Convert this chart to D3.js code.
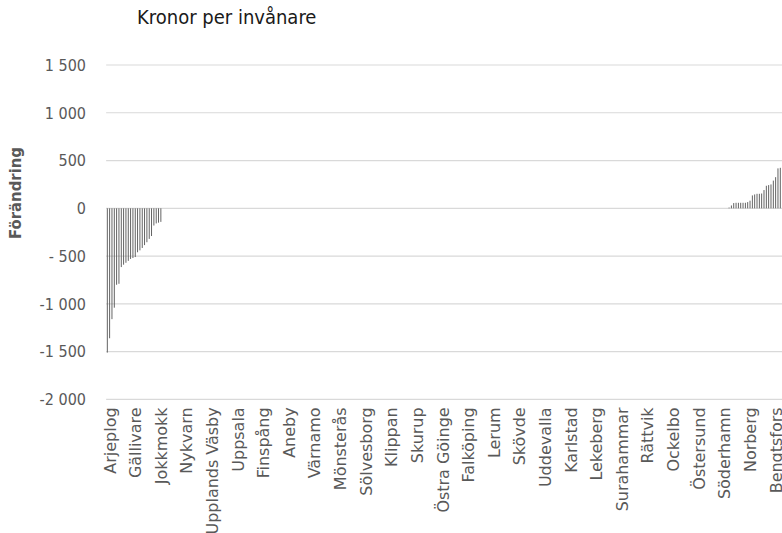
<!DOCTYPE html>
<html>
<head>
<meta charset="utf-8">
<script src="https://cdn.jsdelivr.net/npm/d3@7"></script>
<style>
  html, body { margin: 0; padding: 0; background: #fff; }
  svg { display: block; }
  text { font-family: 'Liberation Sans Narrow', 'DejaVu Sans Condensed', 'Roboto Condensed', sans-serif; }
</style>
</head>
<body>
<svg id="chart" width="782" height="533"></svg>
<script>
// ---- data ----
const title = "Kronor per invånare";
const yTitle = "Förändring";

// labelled municipalities (every 11th category along the sorted axis)
const labeledCategories = [
  "Arjeplog", "Gällivare", "Jokkmokk", "Nykvarn", "Upplands Väsby", "Uppsala",
  "Finspång", "Aneby", "Värnamo", "Mönsterås", "Sölvesborg", "Klippan", "Skurup",
  "Östra Göinge", "Falköping", "Lerum", "Skövde", "Uddevalla", "Karlstad",
  "Lekeberg", "Surahammar", "Rättvik", "Ockelbo", "Östersund", "Söderhamn",
  "Norberg", "Bengtsfors"
];
const labelEvery = 11;

// sorted values, kronor per inhabitant
const valuesLow = [
  -1510, -1360, -1160, -1040, -800, -790, -615, -590, -570, -550, -530, -520,
  -510, -460, -440, -415, -385, -355, -320, -290, -180, -158, -150, -142
];
const valuesFlat = [
  0,0,0,0,0,0,0,0,0,0,0,0,0,0,0,0,0,0,0,0,0,0,0,0,0,0,0,
  0,0,0,0,0,0,0,0,0,0,0,0,0,0,0,0,0,0,0,0,0,0,0,0,0,0,0,
  0,0,0,0,0,0,0,0,0,0,0,0,0,0,0,0,0,0,0,0,0,0,0,0,0,0,0,
  0,0,0,0,0,0,0,0,0,0,0,0,0,0,0,0,0,0,0,0,0,0,0,0,0,0,0,
  0,0,0,0,0,0,0,0,0,0,0,0,0,0,0,0,0,0,0,0,0,0,0,0,0,0,0,
  0,0,0,0,0,0,0,0,0,0,0,0,0,0,0,0,0,0,0,0,0,0,0,0,0,0,0,
  0,0,0,0,0,0,0,0,0,0,0,0,0,0,0,0,0,0,0,0,0,0,0,0,0,0,0,
  0,0,0,0,0,0,0,0,0,0,0,0,0,0,0,0,0,0,0,0,0,0,0,0,0,0,0,
  0,0,0,0,0,0,0,0,0,0,0,0,0,0,0,0,0,0,0,0,0,0,0,0,0,0,0
];
const valuesHigh = [
  8, 30, 55, 58, 58, 58, 58, 58, 65, 80, 135, 145, 152, 152, 155, 191,
  236, 243, 250, 290, 326, 418, 424
];

const yTickValues = [1500, 1000, 500, 0, -500, -1000, -1500, -2000];
const yTickLabels = ["1 500", "1 000", "500", "0", "- 500", "-1 000", "-1 500", "-2 000"];

// ---- build ----
const values = valuesLow.concat(valuesFlat, valuesHigh);
const data = values.map((v, i) => ({
  i: i,
  value: v,
  label: (i % labelEvery === 0) ? labeledCategories[i / labelEvery] : null
}));

const svg = d3.select("#chart");
const plot = { left: 106.14, right: 781.46, top: 65, bottom: 399.4 };

const x = d3.scaleBand()
  .domain(data.map(d => d.i))
  .range([plot.left, plot.right])
  .paddingInner(0.6)
  .paddingOuter(0.3);

const y = d3.scaleLinear()
  .domain([-2000, 1500])
  .range([plot.bottom, plot.top]);

// gridlines
svg.append("g")
  .selectAll("line")
  .data(yTickValues)
  .join("line")
  .attr("x1", plot.left)
  .attr("x2", 782)
  .attr("y1", d => y(d))
  .attr("y2", d => y(d))
  .attr("stroke", "#d9d9d9")
  .attr("stroke-width", 1.2);

// y tick labels
svg.append("g")
  .selectAll("text")
  .data(yTickValues)
  .join("text")
  .attr("x", 86)
  .attr("y", d => y(d))
  .attr("dy", "0.36em")
  .attr("text-anchor", "end")
  .attr("fill", "#595959")
  .attr("font-size", 16)
  .text((d, k) => yTickLabels[k]);

// bars
svg.append("g")
  .selectAll("rect")
  .data(data.filter(d => d.value !== 0))
  .join("rect")
  .attr("x", d => x(d.i))
  .attr("width", x.bandwidth())
  .attr("y", d => y(Math.max(0, d.value)))
  .attr("height", d => Math.abs(y(d.value) - y(0)))
  .attr("fill", "#595959");

// category labels
svg.append("g")
  .selectAll("text")
  .data(data.filter(d => d.label))
  .join("text")
  .attr("transform", d => `translate(${x(d.i) + x.bandwidth() / 2 + 2.5},${plot.bottom + 8}) rotate(-90) scale(1.11,1)`)
  .attr("dy", "0.36em")
  .attr("text-anchor", "end")
  .attr("fill", "#595959")
  .attr("font-size", 16)
  .text(d => d.label);

// y-axis title
svg.append("text")
  .attr("transform", "translate(15,193) rotate(-90)")
  .attr("dy", "0.36em")
  .attr("text-anchor", "middle")
  .attr("fill", "#595959")
  .attr("font-size", 16.5)
  .attr("font-weight", "bold")
  .text(yTitle);

// chart title
svg.append("text")
  .attr("x", 137)
  .attr("y", 24)
  .attr("fill", "#1a1a1a")
  .attr("font-size", 20)
  .text(title);
</script>
</body>
</html>
